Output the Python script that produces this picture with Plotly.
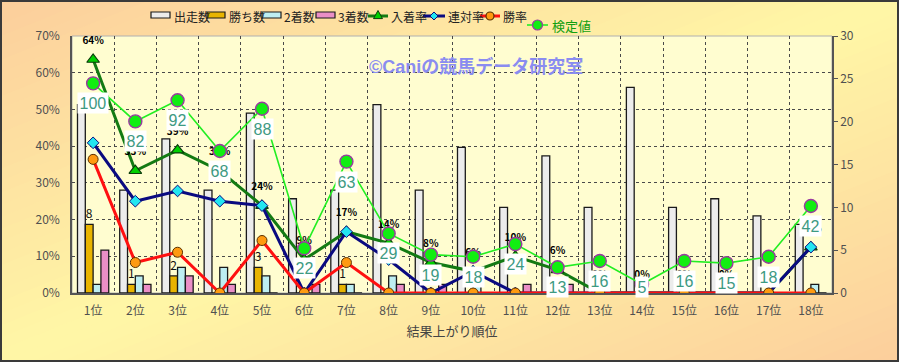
import plotly.graph_objects as go

# ---------------- data ----------------
categories = ["1位", "2位", "3位", "4位", "5位", "6位", "7位", "8位", "9位",
              "10位", "11位", "12位", "13位", "14位", "15位", "16位", "17位", "18位"]
starts = [22, 12, 18, 12, 21, 11, 12, 22, 12, 17, 10, 16, 10, 24, 10, 11, 9, 8]
wins = [8, 1, 2, 0, 3, 0, 1, 0, 0, 0, 0, 0, 0, 0, 0, 0, 0, 0]
seconds = [1, 2, 3, 3, 2, 0, 1, 2, 0, 1, 0, 0, 0, 0, 0, 0, 0, 1]
thirds = [5, 1, 2, 1, 0, 1, 0, 1, 1, 0, 1, 1, 0, 0, 0, 0, 0, 0]
place_rate = [0.636, 0.333, 0.389, 0.333, 0.238, 0.091, 0.167, 0.136, 0.083,
              0.059, 0.100, 0.063, 0, 0, 0, 0, 0, 0.125]
quinella_rate = [0.409, 0.250, 0.278, 0.250, 0.238, 0, 0.167, 0.091, 0,
                 0.059, 0, 0, 0, 0, 0, 0, 0, 0.125]
win_rate = [0.364, 0.083, 0.111, 0, 0.143, 0, 0.083, 0, 0,
            0, 0, 0, 0, 0, 0, 0, 0, 0]
place_labels = ["64%", "33%", "39%", "33%", "24%", "9%", "17%", "14%", "8%",
                "6%", "10%", "6%", "0%", "0%", "0%", "0%", "0%", "13%"]
test_values = [100, 82, 92, 68, 88, 22, 63, 29, 19, 18, 24, 13, 16, 5, 16, 15, 18, 42]

# ---------------- geometry / styles ----------------
W, H = 899, 362
ML, MR, MT, MB = 72, 67, 36, 69
PW, PH = W - ML - MR, H - MT - MB

JP = "Noto Sans CJK JP"
PCT_MAX = 0.7
LABEL_SHIFT = 18 / PH * PCT_MAX          # pixel shift for rate labels
TV_RANGE = [0.85, 122.4]                 # hidden axis for 検定値
TV_PX = (TV_RANGE[1] - TV_RANGE[0]) / PH

C_START, C_WIN, C_2ND, C_3RD = "#ececec", "#e8b400", "#bdeef2", "#ea8ec6"
C_PLACE, C_PLACE_M = "#137a13", "#00d000"
C_QUIN, C_QUIN_M = "#0a0a80", "#22e6f0"
C_WINR, C_WINR_M = "#ff1010", "#ff9a10"
C_TV, C_TV_M, C_TV_O = "#22ee22", "#11ee11", "#9a3aa0"

fig = go.Figure()

bar_line = dict(color="#1a1a1a", width=1.3)
fig.add_trace(go.Bar(x=categories, y=starts, name="出走数", yaxis="y",
                     marker=dict(color=C_START, line=bar_line)))
fig.add_trace(go.Bar(x=categories, y=wins, name="勝ち数", yaxis="y",
                     marker=dict(color=C_WIN, line=bar_line),
                     text=[str(v) if v > 0 else "" for v in wins],
                     textposition="outside", constraintext="none", cliponaxis=False,
                     textfont=dict(size=12, color="#111", family=JP)))
fig.add_trace(go.Bar(x=categories, y=seconds, name="2着数", yaxis="y",
                     marker=dict(color=C_2ND, line=bar_line)))
fig.add_trace(go.Bar(x=categories, y=thirds, name="3着数", yaxis="y",
                     marker=dict(color=C_3RD, line=bar_line)))

fig.add_trace(go.Scatter(x=categories, y=place_rate, name="入着率", yaxis="y2",
                         mode="lines+markers",
                         line=dict(color=C_PLACE, width=3),
                         marker=dict(symbol="triangle-up", size=11, color=C_PLACE_M,
                                     line=dict(color="#0b3d0b", width=1.2))))
fig.add_trace(go.Scatter(x=categories, y=quinella_rate, name="連対率", yaxis="y2",
                         mode="lines+markers",
                         line=dict(color=C_QUIN, width=3),
                         marker=dict(symbol="diamond", size=9, color=C_QUIN_M,
                                     line=dict(color=C_QUIN, width=1))))
fig.add_trace(go.Scatter(x=categories, y=win_rate, name="勝率", yaxis="y2",
                         mode="lines+markers",
                         line=dict(color=C_WINR, width=3),
                         marker=dict(symbol="circle", size=10, color=C_WINR_M,
                                     line=dict(color="#5a3000", width=1))))
# rate labels (drawn on a shifted hidden axis so they sit above the points)
fig.add_trace(go.Scatter(x=categories, y=place_rate, yaxis="y3", mode="text",
                         text=place_labels, textposition="middle center",
                         textfont=dict(size=10, color="#000", family=JP, weight="bold"),
                         showlegend=False, cliponaxis=False, hoverinfo="skip"))
fig.add_trace(go.Scatter(x=categories, y=test_values, name="検定値", yaxis="y4",
                         mode="lines+markers",
                         line=dict(color=C_TV, width=1.6),
                         marker=dict(symbol="circle", size=13, color=C_TV_M,
                                     line=dict(color=C_TV_O, width=1.4)),
                         cliponaxis=False))
fig.update_traces(showlegend=False)


# ---------------- helpers: pixel -> paper ----------------
def px(x):
    return (x - ML) / PW


def py(y):
    return (H - MB - y) / PH


def fx(u):
    return px(u * W)


def fy(v):
    return py(v * H)


shapes = []
annotations = []

# ---------------- background gradient ----------------
peach = (252, 206, 156)
yellow = (255, 247, 166)
N = 60
for k in range(N):
    c1 = 2 * k / N
    c2 = 2 * (k + 1) / N + 0.01
    s = (k + 0.5) / N
    t = abs(1 - 2 * s)
    col = tuple(round(yellow[i] + (peach[i] - yellow[i]) * t) for i in range(3))
    pts = [(-1, c1 + 1), (2, c1 - 2), (2, c2 - 2), (-1, c2 + 1)]
    path = "M " + " L ".join(f"{fx(u):.4f},{fy(v):.4f}" for u, v in pts) + " Z"
    shapes.append(dict(type="path", xref="paper", yref="paper", path=path,
                       fillcolor=f"rgb{col}", line=dict(width=0), layer="below"))
# plot area
shapes.append(dict(type="rect", xref="paper", yref="paper", x0=0, x1=1, y0=0, y1=1,
                   fillcolor="#fffdd0", line=dict(color="#b0b0b0", width=1), layer="below"))
# outer frame
shapes.append(dict(type="rect", xref="paper", yref="paper",
                   x0=px(1), x1=px(W - 1), y0=py(H - 1), y1=py(1),
                   fillcolor="rgba(0,0,0,0)", line=dict(color="#3a3a3a", width=2),
                   layer="above"))

# ---------------- hand-drawn legend ----------------
LEG_FONT = dict(family=JP, size=12, color="#222")


def leg_text(x, y, text, font=LEG_FONT):
    annotations.append(dict(text=text, xref="paper", yref="paper", x=px(x), y=py(y),
                            xanchor="left", yanchor="middle", showarrow=False, font=font))


def leg_rect(x0, x1, yc, fill):
    shapes.append(dict(type="rect", xref="paper", yref="paper",
                       x0=px(x0), x1=px(x1), y0=py(yc + 3), y1=py(yc - 3),
                       fillcolor=fill, line=dict(color="#1a1a1a", width=1.2),
                       layer="above"))


def leg_line(x0, x1, yc, color, width):
    shapes.append(dict(type="line", xref="paper", yref="paper",
                       x0=px(x0), x1=px(x1), y0=py(yc), y1=py(yc),
                       line=dict(color=color, width=width), layer="above"))


def leg_marker(kind, cx, cy, r, fill, edge):
    if kind == "circle":
        shapes.append(dict(type="circle", xref="paper", yref="paper",
                           x0=px(cx - r), x1=px(cx + r), y0=py(cy + r), y1=py(cy - r),
                           fillcolor=fill, line=dict(color=edge, width=1.2),
                           layer="above"))
        return
    if kind == "triangle":
        pts = [(cx, cy - r), (cx + r, cy + r * 0.8), (cx - r, cy + r * 0.8)]
    else:
        pts = [(cx, cy - r), (cx + r, cy), (cx, cy + r), (cx - r, cy)]
    path = "M " + " L ".join(f"{px(a):.5f},{py(b):.5f}" for a, b in pts) + " Z"
    shapes.append(dict(type="path", xref="paper", yref="paper", path=path,
                       fillcolor=fill, line=dict(color=edge, width=1),
                       layer="above"))


LY = 16
leg_rect(151, 170, LY - 1, C_START); leg_text(172, LY, "出走数")
leg_rect(207, 225, LY - 1, C_WIN); leg_text(227, LY, "勝ち数")
leg_rect(262, 281, LY - 1, C_2ND); leg_text(282, LY, "2着数")
leg_rect(316, 335, LY - 1, C_3RD); leg_text(336, LY, "3着数")
leg_line(368, 388, LY, C_PLACE, 3); leg_marker("triangle", 378, LY - 1, 4.5, C_PLACE_M, "#0b3d0b")
leg_text(389, LY, "入着率")
leg_line(423, 445, LY, C_QUIN, 3); leg_marker("diamond", 434, LY, 4, C_QUIN_M, C_QUIN)
leg_text(446, LY, "連対率")
leg_line(480, 500, LY, C_WINR, 3); leg_marker("circle", 490, LY, 4, C_WINR_M, "#5a3000")
leg_text(501, LY, "勝率")
leg_line(527, 548, 25, C_TV, 1.6); leg_marker("circle", 537.5, 25, 5, C_TV_M, C_TV_O)
leg_text(550, 26, "検定値", dict(family=JP, size=13, color="#10a010"))

# ---------------- annotations ----------------
annotations.append(dict(text="©Caniの競馬データ研究室", xref="paper", yref="paper",
                        x=px(476), y=py(54), showarrow=False,
                        font=dict(family="Liberation Sans, " + JP, size=18,
                                  color="#8a8cf0", weight="bold")))
for cat, v in zip(categories, test_values):
    annotations.append(dict(x=cat, y=max(v - 20 * TV_PX, TV_RANGE[0] + 6 * TV_PX),
                            xref="x", yref="y4", text=str(v), showarrow=False,
                            bgcolor="#ffffff", borderpad=1.5,
                            font=dict(family="Liberation Sans, Arial", size=16,
                                      color="#3d9a82")))

grid = dict(showgrid=True, gridcolor="#4a4a4a", griddash="dot", gridwidth=1)
tickfont = dict(family=JP, size=12, color="#505050")

fig.update_layout(
    width=W, height=H, autosize=False,
    margin=dict(l=ML, r=MR, t=MT, b=MB, pad=0, autoexpand=False),
    paper_bgcolor="#fde6a8", plot_bgcolor="rgba(0,0,0,0)",
    barmode="group", bargap=0.26, bargroupgap=0,
    font=dict(family=JP, size=12, color="#333"),
    showlegend=False,
    xaxis=dict(type="category", range=[-0.5, len(categories) - 0.5],
               tickson="boundaries", ticks="", **grid,
               automargin=False,
               showline=True, linecolor="#555", linewidth=1.5,
               tickfont=tickfont, ticklabelstandoff=6,
               title=dict(text="結果上がり順位", standoff=10,
                          font=dict(family=JP, size=13, color="#444"))),
    yaxis=dict(range=[0, 30], dtick=5, side="right", showgrid=False, zeroline=False,
               automargin=False,
               showline=True, linecolor="#555", linewidth=1.5,
               ticks="outside", ticklen=4, tickcolor="#555",
               tickfont=tickfont),
    yaxis2=dict(range=[0, PCT_MAX], dtick=0.1, tickformat=".0%", side="left",
                overlaying="y", **grid, zeroline=False, automargin=False,
                showline=True, linecolor="#555", linewidth=1.5,
                ticks="", tickfont=tickfont, ticklabelstandoff=8),
    yaxis3=dict(range=[-LABEL_SHIFT, PCT_MAX - LABEL_SHIFT], overlaying="y",
                visible=False),
    yaxis4=dict(range=TV_RANGE, overlaying="y", visible=False),
    shapes=shapes,
    annotations=annotations,
)

fig.write_html("out.html",
               config={"displayModeBar": False},
               post_script="document.body.style.margin='0';"
                           "document.body.style.overflow='hidden';")
